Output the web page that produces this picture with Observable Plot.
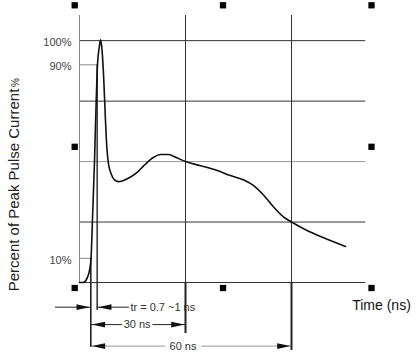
<!DOCTYPE html>
<html><head><meta charset="utf-8">
<script src="https://cdn.jsdelivr.net/npm/d3@7"></script>
<script src="https://cdn.jsdelivr.net/npm/@observablehq/plot@0.6"></script>
<style>html,body{margin:0;padding:0;background:#fff;} #chart svg{display:block}</style>
</head><body><div id="chart"></div>
<script>
// ---- data (time in ns, current in % of peak) ----
const timeNs = [0,1.22,2.18,2.83,3.26,3.76,4.25,4.73,5.07,5.66,5.94,6.31,6.88,7.27,7.73,8.21,8.97,9.91,11.0,12.3,14.44,16.4,18.2,21.0,22.9,25.3,27.2,30.0,34.2,39.0,42.7,46.5,49.3,52.2,55.0,57.8,60.0,64.4,69.1,75.3];
const currentPct = [0,0.1,1.9,5.0,9.9,29.8,50.4,75.2,89.3,97.9,100.4,97.2,83.5,69.8,55.9,49.0,44.9,42.4,41.7,42.1,43.6,45.6,48.3,51.8,52.9,52.9,51.8,50.0,48.3,46.3,44.2,42.4,40.1,36.0,31.1,27.0,25.0,21.5,18.5,14.9];
const yTickValues = [10, 90, 100];
const yTickLabels = ["10%", "90%", "100%"];
const gridPct = [0, 25, 50, 75, 100];
const gridNs = [30, 60];
const riseStartNs = 3.2;   // 10 % point
const riseEndNs = 5.0;     // 90 % point
const spanLabels = ["tr = 0.7 ~1 ns", "30 ns", "60 ns"];
const spanEndNs = [riseEndNs, 30, 60];
const yLabel = "Percent of Peak Pulse Current";
const yLabelUnit = "%";
const xLabel = "Time (ns)";

// ---- layout (in scale units) ----
const xMax = 81, yMax = 110.4;
const rowY = [-10.2, -17.4, -26.3];          // annotation rows below the baseline
const gridExtBottom = [-21.1, -28.1];
const lineABottom = -26.8, lineBBottom = -11.6;
const row1LeftStart = -6.8, row1LabelAt = 14.4;
const spanLabelAt = [16.3, 29.3];

const pulse = timeNs.map((t, i) => ({t, pct: currentPct[i]}));
const yTicks = yTickValues.map((v, i) => ({v, label: yTickLabels[i]}));

const arrowHead = {
  draw(ctx, size) {
    const r = Math.sqrt(size / Math.PI);
    const L = 3.8 * r, h = 0.8 * r;
    ctx.moveTo(-1, 0); ctx.lineTo(-1 - L, -h); ctx.lineTo(-1 - L, h); ctx.closePath();
  }
};

const segments = [
  {x1: row1LeftStart, x2: riseStartNs, y: rowY[0], c: "#222"},
  {x1: riseEndNs, x2: row1LabelAt, y: rowY[0], c: "#222"},
  {x1: riseStartNs, x2: spanEndNs[1], y: rowY[1], c: "#222"},
  {x1: riseStartNs, x2: spanEndNs[2], y: rowY[2], c: "#999"}
];
const heads = [
  {x: riseStartNs, y: rowY[0], rot: 0},
  {x: spanEndNs[0], y: rowY[0], rot: 180},
  {x: riseStartNs, y: rowY[1], rot: 180},
  {x: spanEndNs[1], y: rowY[1], rot: 0},
  {x: riseStartNs, y: rowY[2], rot: 180},
  {x: spanEndNs[2], y: rowY[2], rot: 0}
];

const handleAnchors = [
  ["top-left", -4.8, -10.2], ["top", 0.4, -10.2], ["top-right", 5.8, -10.2],
  ["left", -4.8, -2.2], ["right", 5.8, -2.2],
  ["bottom-left", -4.8, 5.5], ["bottom", 0.4, 5.5], ["bottom-right", 5.8, 5.5]
];

const chart = Plot.plot({
  width: 419, height: 359,
  marginLeft: 79, marginRight: 419 - 79 - 286.2, marginTop: 15, marginBottom: 77,
  x: {domain: [0, xMax], axis: null},
  y: {domain: [0, yMax], axis: null},
  style: {fontFamily: "'Liberation Sans', Arial, sans-serif", background: "white", color: "#222"},
  marks: [
    // horizontal grid
    Plot.ruleY(gridPct.filter(d => d !== 50), {x1: 0, x2: xMax, stroke: "#333"}),
    Plot.ruleY([50], {x1: 0, x2: xMax, stroke: "#999"}),
    // 10% / 90% ticks
    Plot.ruleY([{y: 10, x2: riseStartNs}, {y: 90, x2: riseEndNs}], {y: "y", x1: 0, x2: "x2", stroke: "#888"}),
    // y axis line
    Plot.ruleX([0], {y1: 0, y2: yMax, stroke: "#888"}),
    // vertical grid
    Plot.ruleX(gridNs, {y1: 0, y2: yMax, stroke: "#333"}),
    // annotation row lines
    Plot.ruleY(segments, {y: "y", x1: "x1", x2: "x2", stroke: d => d.c}),
    // span labels
    Plot.text([spanLabels[0]], {x: row1LabelAt, y: rowY[0], text: d => d, textAnchor: "start", fontSize: 11, fill: "#333", stroke: "white", strokeWidth: 4, paintOrder: "stroke"}),
    Plot.text([spanLabels[1]], {x: spanLabelAt[0], y: rowY[1], text: d => d, fontSize: 11, fill: "#333", stroke: "white", strokeWidth: 5, paintOrder: "stroke"}),
    Plot.text([spanLabels[2]], {x: spanLabelAt[1], y: rowY[2], text: d => d, fontSize: 11, fill: "#333", stroke: "white", strokeWidth: 10, paintOrder: "stroke"}),
    // extensions of grid below baseline
    Plot.ruleX(gridNs.map((t, i) => ({t, b: gridExtBottom[i]})), {x: "t", y1: 0, y2: "b", stroke: "#222", strokeWidth: 2}),
    // rise-time marker lines
    Plot.ruleX([riseStartNs], {y1: 10, y2: lineABottom, stroke: "#222", strokeWidth: 1.6}),
    Plot.ruleX([riseEndNs], {y1: 90, y2: lineBBottom, stroke: "#222", strokeWidth: 1.4}),
    // arrowheads
    Plot.dot(heads, {x: "x", y: "y", rotate: "rot", symbol: arrowHead, r: 3.5, fill: "#111", stroke: "none"}),
    // pulse curve
    Plot.line(pulse, {x: "t", y: "pct", curve: "monotone-x", stroke: "#111", strokeWidth: 1.6}),
    // y tick labels
    Plot.text(yTicks, {x: 0, y: "v", text: "label", textAnchor: "end", dx: -8, dy: 2, fontSize: 11, fill: "#444"}),
    // axis titles
    Plot.text([yLabel], {frameAnchor: "left", text: d => d, rotate: -90, textAnchor: "middle", lineAnchor: "bottom", dx: -61, dy: 41, fontSize: 15, fill: "#222"}),
    Plot.text([yLabelUnit], {frameAnchor: "left", text: d => d, rotate: -90, textAnchor: "middle", lineAnchor: "bottom", dx: -61, dy: -66.5, fontSize: 10, fill: "#222"}),
    Plot.text([xLabel], {frameAnchor: "bottom-right", text: d => d, textAnchor: "start", lineAnchor: "bottom", dx: -13.5, dy: 27, fontSize: 14, fill: "#111"}),
    // selection handles
    ...handleAnchors.map(([a, dx, dy]) => Plot.dot([0], {frameAnchor: a, dx, dy, symbol: "square", r: 3.55, fill: "#000", stroke: "none"}))
  ]
});
document.getElementById("chart").appendChild(chart);
</script>
</body></html>
